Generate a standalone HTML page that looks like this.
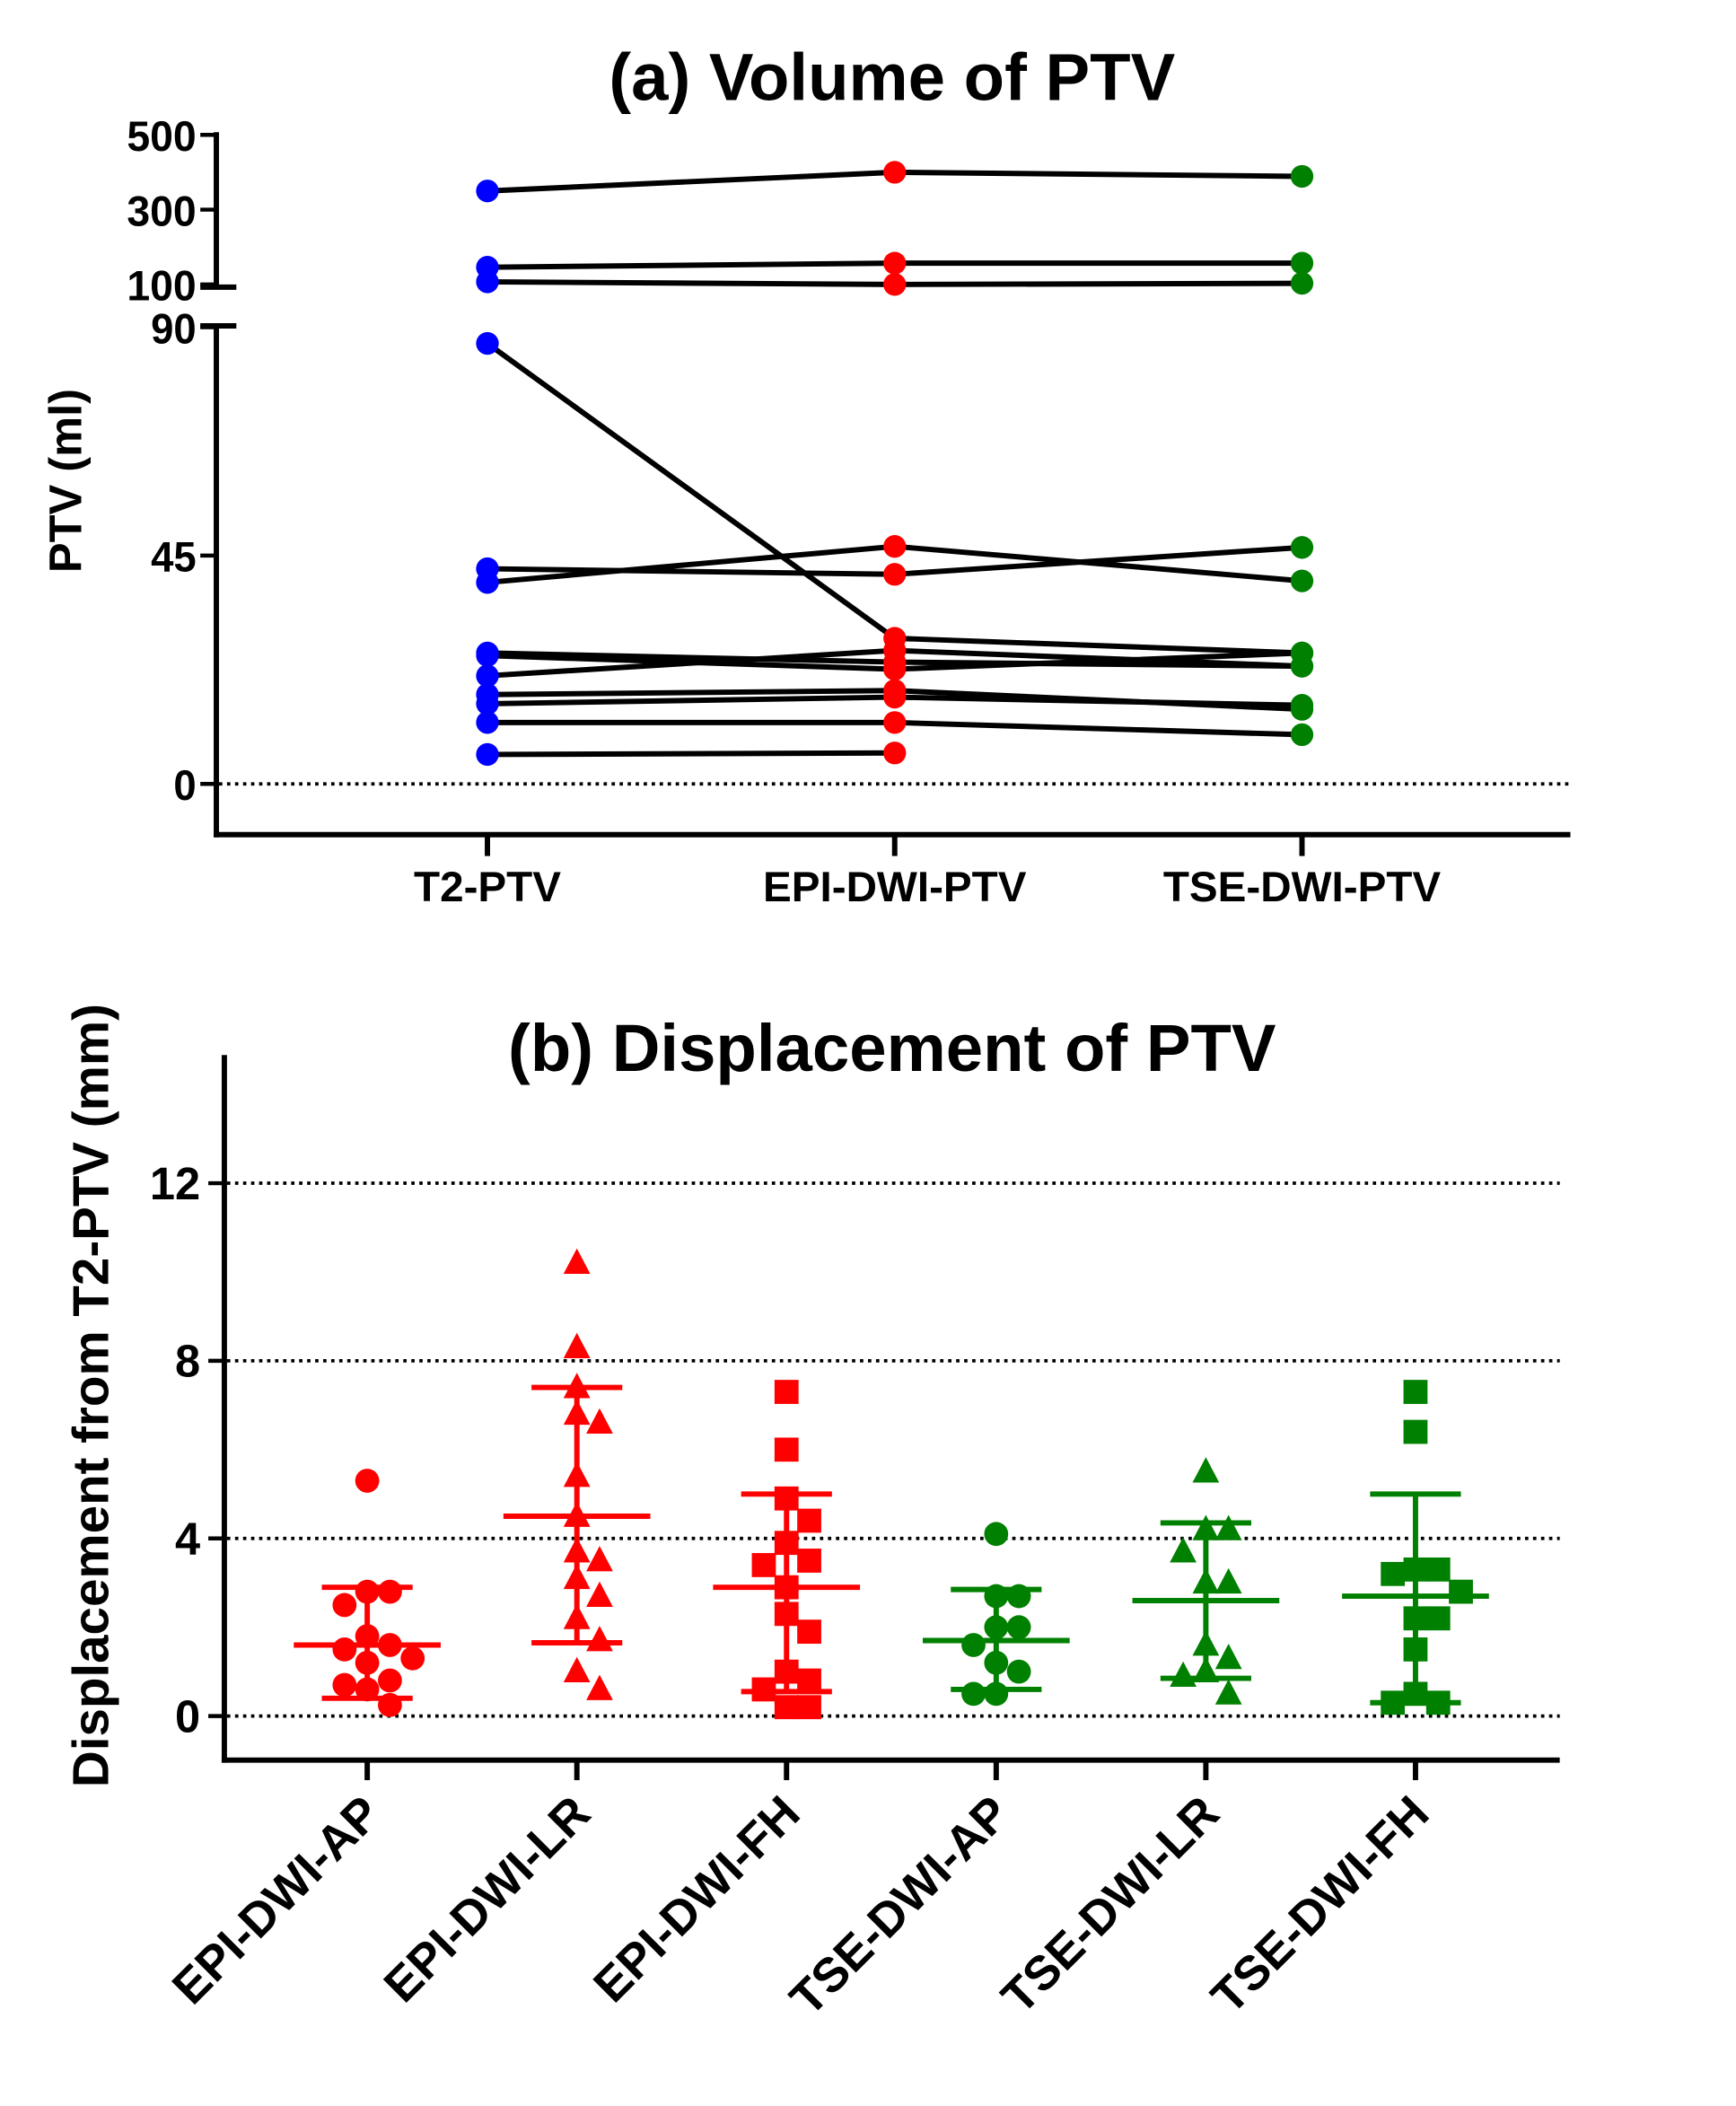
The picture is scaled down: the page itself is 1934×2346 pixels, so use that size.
<!DOCTYPE html>
<html><head><meta charset="utf-8"><style>
html,body{margin:0;padding:0;background:#fff}
svg{display:block}
text{font-family:"Liberation Sans",Arial,sans-serif;font-weight:bold;fill:#000}
</style></head><body>
<svg id="chart" width="1934" height="2346" viewBox="0 0 1300 1577" preserveAspectRatio="none" xmlns="http://www.w3.org/2000/svg">
<g id="pa"></g>
<g id="pb"></g>
</svg>
<script>
// ---- Panel (a) data ----
const aCategories = ["T2-PTV","EPI-DWI-PTV","TSE-DWI-PTV"];
const aColors = ["#0000ff","#ff0000","#008000"];
const aT2  = [350,146,107,86.8,42.4,39.7,25.8,25.3,21.3,17.6,15.8,12.1,5.8];
const aEPI = [400,157,100,28.7,41.3,46.8,24.0,22.6,26.3,18.4,17.1,12.1,6.1];
const aTSE = [389,157,103,25.8,46.6,40.0,23.2,25.8,23.2,14.7,15.5,9.7,null];
const aTickLow = [0,45,90];
const aTickHigh = [100,300,500];
// ---- Panel (b) data ----
const bCategories = ["EPI-DWI-AP","EPI-DWI-LR","EPI-DWI-FH","TSE-DWI-AP","TSE-DWI-LR","TSE-DWI-FH"];
const bShapes = ["circle","triangle","square","circle","triangle","square"];
const bColors = ["#ff0000","#ff0000","#ff0000","#008000","#008000","#008000"];
const bEpiAP = [5.3,2.8,2.8,2.5,1.8,1.6,1.5,1.3,1.2,0.8,0.7,0.6,0.25];
const bEpiLR = [10.2,8.3,7.4,6.8,6.6,5.4,4.5,3.7,3.5,3.1,2.7,2.2,1.7,1.0,0.6];
const bEpiFH = [7.3,6.0,4.9,4.4,3.9,3.5,3.4,2.9,2.3,1.9,1.0,0.8,0.6,0.2,0.2];
const bTseAP = [4.1,2.7,2.7,2.0,2.0,1.6,1.2,1.0,0.5,0.5];
const bTseLR = [5.5,4.2,4.2,3.7,3.0,3.0,1.6,1.3,1.0,0.9,0.5];
const bTseFH = [7.3,6.4,3.3,3.3,3.2,2.8,2.2,2.2,1.5,0.5,0.3,0.3];
const bMeans = [1.6,4.5,2.9,1.7,2.6,2.7];
const bUpper = [2.9,7.4,5.0,2.85,4.35,5.0];
const bLower = [0.4,1.65,0.55,0.6,0.85,0.3];
const bTicks = [0,4,8,12];

const NS="http://www.w3.org/2000/svg";
function mk(parent,tag,attrs,name,inter){
  const e=document.createElementNS(NS,tag);
  for(const k in attrs)e.setAttribute(k,attrs[k]);
  
  
  parent.appendChild(e);return e;
}
// ===== Panel A =====
const pa=document.getElementById('pa');
const aX=i=>365+i*305;
function aY(v){ if(v>=100) return 213-(v-100)*0.28; return 587-v*3.8; }
let t=mk(pa,'text',{x:668,y:75,'font-size':50,'text-anchor':'middle'},'panel-a-title');t.textContent="(a) Volume of PTV";
mk(pa,'line',{x1:162,y1:99,x2:162,y2:215,stroke:'#000','stroke-width':4},'y-axis-upper');
mk(pa,'line',{x1:162,y1:243,x2:162,y2:627,stroke:'#000','stroke-width':4},'y-axis-lower');
mk(pa,'line',{x1:150,y1:215,x2:177,y2:215,stroke:'#000','stroke-width':4},'axis-break-top');
mk(pa,'line',{x1:150,y1:244,x2:177,y2:244,stroke:'#000','stroke-width':4},'axis-break-bottom');
mk(pa,'line',{x1:160,y1:625,x2:1176,y2:625,stroke:'#000','stroke-width':4},'x-axis');
aTickHigh.concat(aTickLow).forEach(v=>{
  const y=aY(v);
  mk(pa,'line',{x1:150,y1:y,x2:162,y2:y,stroke:'#000','stroke-width':3},'y-tick');
  const tt=mk(pa,'text',{x:147,y:y+12,'font-size':32,'text-anchor':'end',textLength:v>=100?52:(v>=10?34:17),lengthAdjust:'spacingAndGlyphs'},'y-tick-label');tt.textContent=v;
});
mk(pa,'line',{x1:164,y1:aY(0),x2:1176,y2:aY(0),stroke:'#000','stroke-width':2.5,'stroke-dasharray':'2.5 3.5'},'zero-line');
t=mk(pa,'text',{x:0,y:0,'font-size':34,'text-anchor':'middle',transform:'translate(61,360) rotate(-90)'},'y-axis-title');t.textContent="PTV (ml)";
aCategories.forEach((c,i)=>{
  mk(pa,'line',{x1:aX(i),y1:625,x2:aX(i),y2:641,stroke:'#000','stroke-width':4},'x-tick');
  const tt=mk(pa,'text',{x:aX(i),y:675,'font-size':32,'text-anchor':'middle'},'x-tick-label');tt.textContent=c;
});
const aSeries=[aT2,aEPI,aTSE];
for(let s=0;s<aT2.length;s++){
  const pts=[];
  aSeries.forEach((arr,i)=>{ if(arr[s]!=null) pts.push(aX(i)+','+aY(arr[s])); });
  mk(pa,'polyline',{points:pts.join(' '),fill:'none',stroke:'#000','stroke-width':4},'subject-line');
}
aSeries.forEach((arr,i)=>{
  arr.forEach(v=>{ if(v==null)return;
    mk(pa,'circle',{cx:aX(i),cy:aY(v),r:8.5,fill:aColors[i]},'point-'+aCategories[i].toLowerCase());
  });
});
// ===== Panel B =====
const pb=document.getElementById('pb');
const bX=i=>275+i*157;
const bY=v=>1285-v*33.25;
t=mk(pb,'text',{x:668,y:802,'font-size':50,'text-anchor':'middle'},'panel-b-title');t.textContent="(b) Displacement of PTV";
mk(pb,'line',{x1:168,y1:790,x2:168,y2:1320,stroke:'#000','stroke-width':4},'y-axis');
mk(pb,'line',{x1:166,y1:1318,x2:1168,y2:1318,stroke:'#000','stroke-width':4},'x-axis');
bTicks.forEach(v=>{
  const y=bY(v);
  mk(pb,'line',{x1:156,y1:y,x2:168,y2:y,stroke:'#000','stroke-width':3},'y-tick');
  mk(pb,'line',{x1:170,y1:y,x2:1168,y2:y,stroke:'#000','stroke-width':2.5,'stroke-dasharray':'2.5 3.5'},'gridline');
  const tt=mk(pb,'text',{x:150,y:y+12,'font-size':34,'text-anchor':'end'},'y-tick-label');tt.textContent=v;
});
t=mk(pb,'text',{x:0,y:0,'font-size':38,'text-anchor':'middle',transform:'translate(81,1045) rotate(-90)'},'y-axis-title');t.textContent="Displacement from T2-PTV (mm)";
const bSeries=[bEpiAP,bEpiLR,bEpiFH,bTseAP,bTseLR,bTseFH];
bCategories.forEach((c,i)=>{
  const x=bX(i);
  mk(pb,'line',{x1:x,y1:1318,x2:x,y2:1333,stroke:'#000','stroke-width':4},'x-tick');
  const tt=mk(pb,'text',{x:0,y:0,'font-size':36,'text-anchor':'end',transform:`translate(${x+12},${1360}) rotate(-45)`},'x-tick-label');tt.textContent=c;
  const placed=[];const d=17;
  bSeries[i].forEach(v=>{
    const y=bY(v);let off=0;
    for(let k=0;k<12;k++){
      const cand=k===0?0:(k%2?1:-1)*Math.ceil(k/2)*d;
      if(placed.every(p=>Math.hypot(p[0]-cand,p[1]-y)>=d)){off=cand;break;}
    }
    placed.push([off,y]);
    const px=x+off,col=bColors[i];
    if(bShapes[i]==='circle') mk(pb,'circle',{cx:px,cy:y,r:9,fill:col},'point-'+c.toLowerCase());
    else if(bShapes[i]==='square') mk(pb,'rect',{x:px-9,y:y-9,width:18,height:18,fill:col},'point-'+c.toLowerCase());
    else mk(pb,'polygon',{points:`${px},${y-11} ${px-10},${y+8} ${px+10},${y+8}`,fill:col},'point-'+c.toLowerCase());
  });
  const col=bColors[i];
  mk(pb,'line',{x1:x,y1:bY(bUpper[i]),x2:x,y2:bY(bLower[i]),stroke:col,'stroke-width':4},'error-bar');
  mk(pb,'line',{x1:x-34,y1:bY(bUpper[i]),x2:x+34,y2:bY(bUpper[i]),stroke:col,'stroke-width':4},'error-cap-upper');
  mk(pb,'line',{x1:x-34,y1:bY(bLower[i]),x2:x+34,y2:bY(bLower[i]),stroke:col,'stroke-width':4},'error-cap-lower');
  mk(pb,'line',{x1:x-55,y1:bY(bMeans[i]),x2:x+55,y2:bY(bMeans[i]),stroke:col,'stroke-width':4},'mean-line');
});
</script>
</body></html>
